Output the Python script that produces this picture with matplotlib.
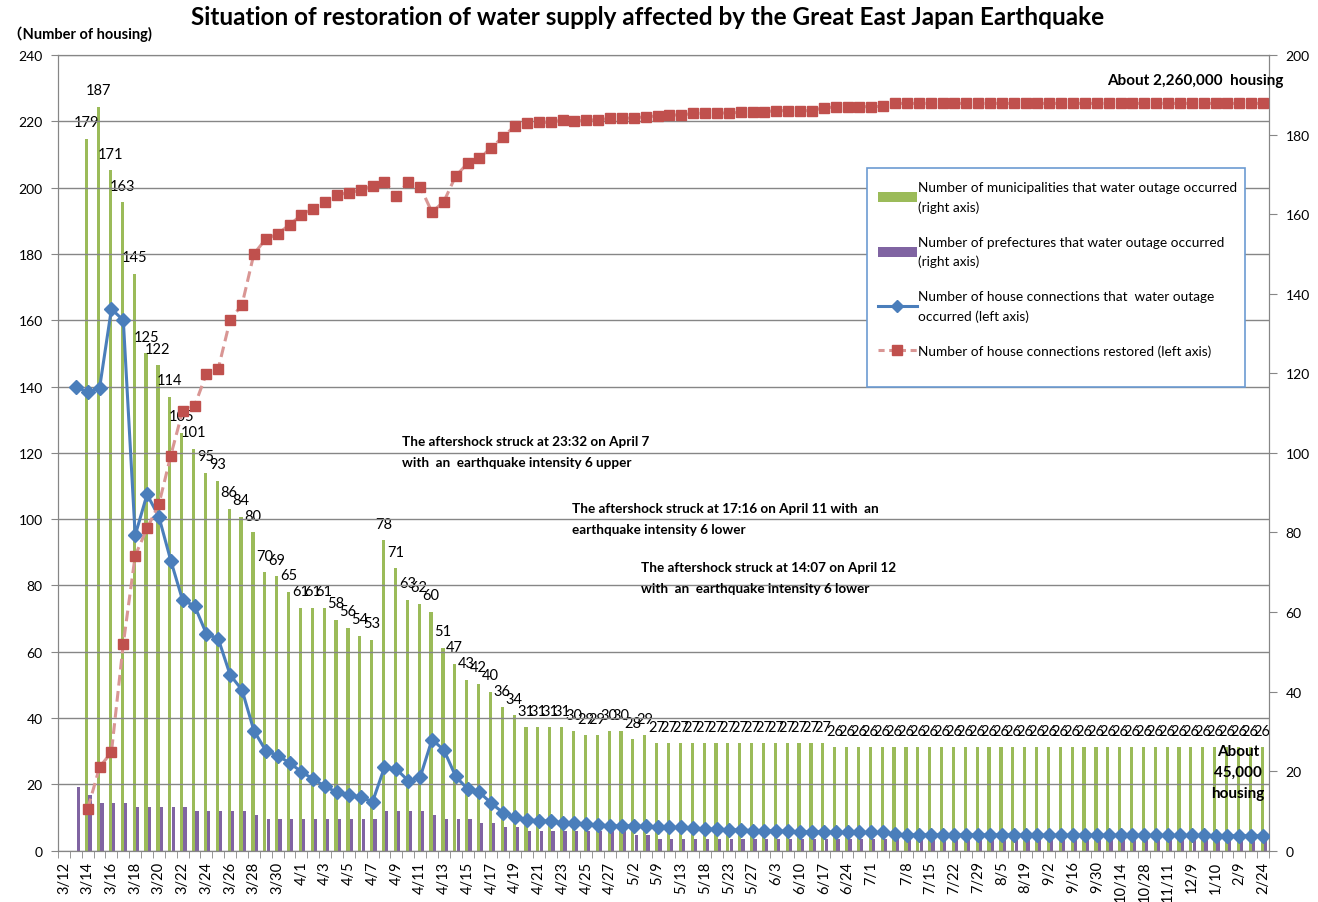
import matplotlib.pyplot as plt
from matplotlib.patches import Patch, Rectangle
from matplotlib.lines import Line2D
import numpy as np

nan = np.nan

# category labels (only every other day is labelled on the axis)
dates = ['3/12', '', '3/14', '', '3/16', '', '3/18', '', '3/20', '', '3/22', '',
         '3/24', '', '3/26', '', '3/28', '', '3/30', '', '4/1', '', '4/3', '',
         '4/5', '', '4/7', '', '4/9', '', '4/11', '', '4/13', '', '4/15', '',
         '4/17', '', '4/19', '', '4/21', '', '4/23', '', '4/25', '', '4/27', '',
         '5/2', '', '5/9', '', '5/13', '', '5/18', '', '5/23', '', '5/27', '',
         '6/3', '', '6/10', '', '6/17', '', '6/24', '', '7/1', '', '', '7/8',
         '', '7/15', '', '7/22', '', '7/29', '', '8/5', '', '8/19', '', '9/2',
         '', '9/16', '', '9/30', '', '10/14', '', '10/28', '', '11/11', '', '12/9',
         '', '1/10', '', '2/9', '', '2/24']

# number of municipalities with water outage (right axis)
municipalities = [nan, nan, 179, 187, 171, 163, 145, 125, 122, 114, 105, 101,
                  95, 93, 86, 84, 80, 70, 69, 65, 61, 61, 61, 58, 56, 54, 53,
                  78, 71, 63, 62, 60, 51, 47, 43, 42, 40, 36, 34, 31, 31, 31,
                  31, 30, 29, 29, 30, 30, 28, 29] + [27] * 15 + [26] * 37

# number of prefectures with water outage (right axis)
prefectures = [nan, 16, 14, 12, 12, 12, 11, 11, 11, 11, 11, 10, 10, 10, 10, 10,
               9, 8, 8, 8, 8, 8, 8, 8, 8, 8, 8, 10, 10, 10, 10, 9, 8, 8, 8,
               7, 7, 6, 6, 5, 5, 5, 5, 5, 5, 5, 5, 5, 4, 4] + [3] * 52

# house connections with water outage, 10,000 housing (left axis)
outage = [nan, 140.0, 138.3, 139.5, 163.4, 160.0, 95.1, 107.5, 100.7, 87.5,
          75.5, 73.9, 65.4, 63.9, 53.0, 48.5, 36.2, 30.2, 28.7, 26.5, 23.8,
          21.6, 19.4, 17.6, 16.9, 16.1, 14.8, 25.2, 24.6, 21.1, 22.1, 33.5,
          30.4, 22.4, 18.6, 17.6, 14.3, 11.4, 10.1, 9.3, 9.1, 8.9, 8.4, 8.4,
          8.0, 7.8, 7.5, 7.5, 7.5, 7.3, 7.2, 7.0, 7.0, 6.7, 6.5, 6.5, 6.3,
          6.3, 6.0, 6.0, 6.0, 5.8, 5.7, 5.7, 5.7, 5.5, 5.5, 5.5, 5.5, 5.5,
          4.9] + [4.8] * 10 + [4.7] * 10 + [4.6] * 6 + [4.5] * 5

# house connections restored, 10,000 housing (left axis)
restored = [nan, nan, 12.6, 25.2, 29.7, 62.4, 89.0, 97.2, 104.5, 119.2, 132.7,
            134.1, 143.9, 145.4, 160.1, 164.7, 180.0, 184.5, 186.0, 188.8,
            191.7, 193.7, 195.7, 197.8, 198.5, 199.2, 200.5, 201.7, 197.5,
            201.7, 200.3, 192.6, 195.8, 203.5, 207.3, 208.8, 212.1, 215.3,
            218.7, 219.5, 219.7, 219.7, 220.4, 220.0, 220.4, 220.4, 220.9,
            220.9, 221.0, 221.4, 221.6, 221.9, 221.9, 222.4, 222.4, 222.5,
            222.5, 222.7, 222.7, 222.9, 223.2, 223.2, 223.2, 223.2, 224.1,
            224.3, 224.3, 224.4, 224.4, 224.5] + [225.4] * 32

green = '#9BBB59'
purple = '#8064A2'
blue = '#4A7EBB'
red = '#C0504D'
pink = '#D99694'
gray = '#868686'

plt.rcParams['font.family'] = ['Lato', 'Noto Sans CJK JP', 'DejaVu Sans']

fig = plt.figure(figsize=(13.18, 9.03), dpi=100)
ax = fig.add_axes([58 / 1318, 1 - 851.7 / 903, 1211 / 1318, 795.7 / 903])
ax2 = ax.twinx()
ax.set_zorder(ax2.get_zorder() + 1)
ax.patch.set_visible(False)

x = np.arange(len(dates))

# bars on the right axis
ax2.bar(x - 0.08, municipalities, width=0.27, color=green)
ax2.bar(x + 0.2, prefectures, width=0.27, color=purple)
for i, v in enumerate(municipalities):
    if not np.isnan(v):
        ax2.annotate(f'{v:.0f}', (i - 0.08, v), xytext=(0, 12),
                     textcoords='offset points', ha='center', va='center',
                     fontsize=10.5, annotation_clip=False)

# lines on the left axis
ax.plot(x, outage, color=blue, lw=2.2, marker='D', ms=7, mfc=blue, mec=blue, zorder=3)
ax.plot(x, restored, color=pink, lw=2.2, ls=(0, (3.5, 1.8)), marker='s', ms=7.8,
        mfc=red, mec=red, zorder=4)

# axes
ax.set_xlim(-0.5, len(dates) - 0.5)
ax.set_xticks(x)
ax.set_xticklabels(dates, rotation=90, fontsize=10.5)
ax.set_xticks(np.arange(-0.5, len(dates)), minor=True)
ax.tick_params(axis='x', which='major', length=0, pad=7)
ax.tick_params(axis='x', which='minor', length=5, color=gray)

ax.set_ylim(0, 240)
ax.set_yticks(range(0, 241, 20))
ax.tick_params(axis='y', length=5, pad=6, labelsize=10, color=gray)
ax2.set_ylim(0, 200)
ax2.set_yticks(range(0, 201, 20))
ax2.tick_params(axis='y', length=6, pad=6, labelsize=10, color=gray)

for a in (ax, ax2):
    for s in a.spines.values():
        s.set_color(gray)
ax.yaxis.grid(True, color=gray, lw=1)
ax.set_axisbelow(True)

# legend: box drawn separately so its size matches the original
ax.add_patch(Rectangle((0.668, 0.5824), 0.3122, 0.2752, transform=ax.transAxes,
                       facecolor='white', edgecolor='#6C9BD2', lw=1.2, zorder=5))
handles = [Patch(facecolor=green), Patch(facecolor=purple),
           Line2D([], [], color=blue, lw=2.2, marker='D', ms=6, mfc=blue, mec=blue),
           Line2D([], [], color=pink, lw=2.2, ls=(0, (2, 1.5)), marker='s', ms=7.5,
                  mfc=red, mec=red)]
labels = ['Number of municipalities that water outage occurred\n(right axis)',
          'Number of prefectures that water outage occurred\n(right axis)',
          'Number of house connections that  water outage\noccurred (left axis)',
          'Number of house connections restored (left axis)']
leg = ax.legend(handles, labels, loc='upper left', bbox_to_anchor=(0.6771, 0.8416),
                fontsize=9.8, frameon=False, handlelength=2.85, handletextpad=0.1,
                labelspacing=1.66, borderpad=0, borderaxespad=0)
leg.set_zorder(6)
for t in leg.get_texts():
    t.set_linespacing(1.7)

# texts
fig.text(0.491, 0.981,
         'Situation of restoration of water supply affected by the Great East Japan Earthquake',
         ha='center', va='center', fontsize=17.5, fontweight='bold')
fig.text(0.006, 0.962, '（Number of housing)', ha='left', va='center',
         fontsize=10.5, fontweight='bold')

bold = dict(fontsize=9.7, fontweight='bold', ha='left', va='center', linespacing=1.9)
fig.text(402 / 1318, 1 - 452.5 / 903,
         'The aftershock struck at 23:32 on April 7\nwith  an  earthquake intensity 6 upper', **bold)
fig.text(572 / 1318, 1 - 519.5 / 903,
         'The aftershock struck at 17:16 on April 11 with  an\nearthquake intensity 6 lower', **bold)
fig.text(641 / 1318, 1 - 579 / 903,
         'The aftershock struck at 14:07 on April 12\nwith  an  earthquake intensity 6 lower', **bold)
fig.text(1283 / 1318, 1 - 81 / 903, 'About 2,260,000  housing',
         fontsize=11, fontweight='bold', ha='right', va='center')
fig.text(1238 / 1318, 1 - 773 / 903, 'About\n45,000\nhousing',
         fontsize=11, fontweight='bold', ha='center', va='center', linespacing=1.65)

fig.savefig('out.png', dpi=100)
